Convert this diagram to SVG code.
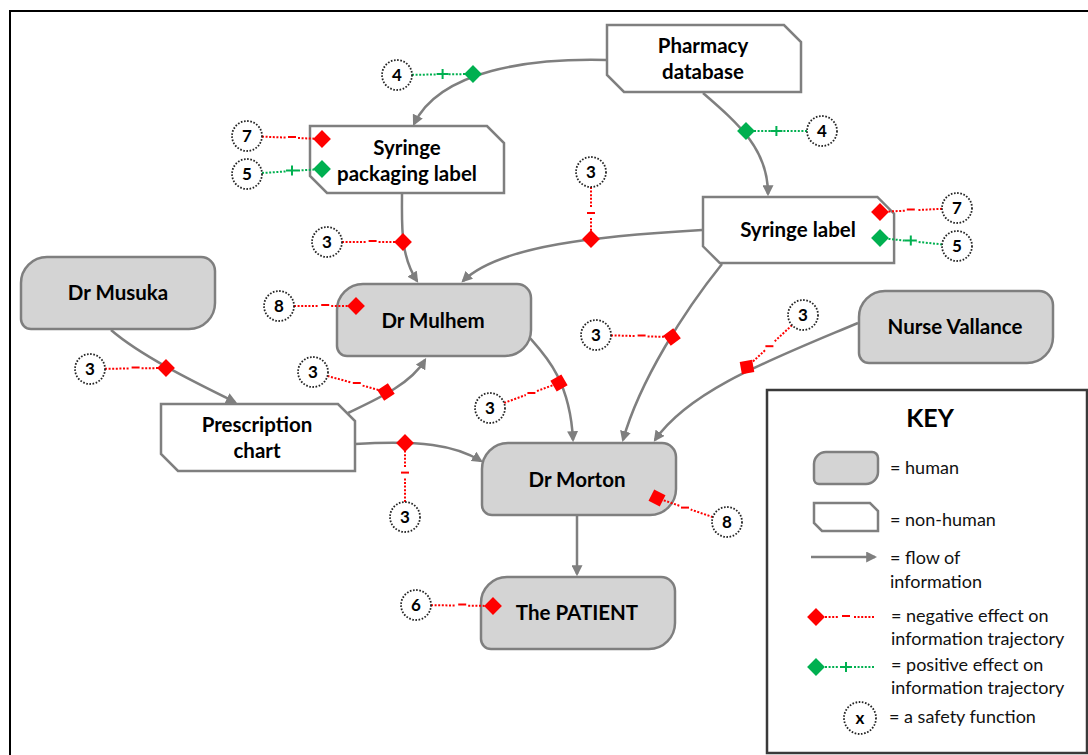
<svg xmlns="http://www.w3.org/2000/svg" xmlns:xlink="http://www.w3.org/1999/xlink" width="1088" height="755" viewBox="0 0 1088 755">
  <style>
    .human { fill: #d4d4d4; stroke: #7f7f7f; stroke-width: 2.5; }
    .thing { fill: #ffffff; stroke: #7f7f7f; stroke-width: 2.5; }
    .label { font-family: Lato, "Liberation Sans", sans-serif; font-weight: bold; font-size: 20.5px; fill: #000; text-anchor: middle; }
    .flow { fill: none; stroke: #7f7f7f; stroke-width: 2.5; marker-end: url(#arrow); }
    .negdot { fill: none; stroke: #ff0000; stroke-width: 2; stroke-dasharray: 2 1.6; }
    .posdot { fill: none; stroke: #00b050; stroke-width: 2; stroke-dasharray: 2 1.6; }
    .neg { fill: #ff0000; stroke: #ff0000; stroke-width: 2; }
    .pos { fill: #00b050; stroke: #00b050; stroke-width: 2; }
    .sf { fill: #ffffff; stroke: #222; stroke-width: 1.8; stroke-dasharray: 1.6 1.6; }
    .num { font-family: Lato, "Liberation Sans", sans-serif; font-weight: bold; font-size: 17px; fill: #000; text-anchor: middle; }
    .key { font-family: Lato, "Liberation Sans", sans-serif; font-size: 18px; fill: #111; }
  </style>
  <defs>
    <marker id="arrow" viewBox="0 0 10 10" refX="8" refY="5" markerWidth="11" markerHeight="11" markerUnits="userSpaceOnUse" orient="auto">
      <path d="M0,0 L10,5 L0,10 Z" fill="#7f7f7f"/>
    </marker>
    <!-- person: big rounded top-left / bottom-right corners -->
    <path id="humanShape" d="M26,0 H180 A14,14 0 0 1 194,14 V46 A26,26 0 0 1 168,72 H10 A10,10 0 0 1 0,62 V26 A26,26 0 0 1 26,0 Z"/>
    <!-- artefact: clipped top-right / bottom-left corners -->
    <path id="thingShape" d="M0,0 H177 L194,17 V67 H17 L0,50 Z"/>
    <path id="dia" d="M0,-7.5 L7.5,0 L0,7.5 L-7.5,0 Z"/>
    <path id="dash" d="M-4,0 H4"/>
    <path id="plus" d="M-6,0 H6 M0,-5 V5"/>
  </defs>

  <rect width="1088" height="755" fill="#ffffff"/>
  <rect x="10" y="11" width="1090" height="760" fill="none" stroke="#000" stroke-width="2"/>

  <!-- information flows -->
  <g id="connectors">
    <path class="flow" d="M607,60 C530,58 440,70 414,124"/>
    <path class="flow" d="M703,93 C740,125 768,150 768,194"/>
    <path class="flow" d="M402,194 C402,225 400,255 417,281"/>
    <path class="flow" d="M702,230 C600,236 500,245 463,281"/>
    <path class="flow" d="M111,330 C140,355 190,380 235,402"/>
    <path class="flow" d="M348,413 C375,400 410,385 425,360"/>
    <path class="flow" d="M355,444 C420,440 455,445 481,461"/>
    <path class="flow" d="M529,337 C545,355 570,380 573,440"/>
    <path class="flow" d="M722,264 C685,310 640,380 623,440"/>
    <path class="flow" d="M858,323 C770,360 690,390 655,440"/>
    <path class="flow" d="M577,515 V574"/>
  </g>

  <!-- nodes -->
  <g id="pharmacy-database">
    <use xlink:href="#thingShape" class="thing" transform="translate(607,25)"/>
    <text class="label" x="703" y="53">Pharmacy</text>
    <text class="label" x="703" y="79">database</text>
  </g>
  <g id="syringe-packaging-label">
    <use xlink:href="#thingShape" class="thing" transform="translate(310,126)"/>
    <text class="label" x="407" y="155">Syringe</text>
    <text class="label" x="407" y="181">packaging label</text>
  </g>
  <g id="syringe-label">
    <use xlink:href="#thingShape" class="thing" transform="translate(703,197) scale(0.985,0.985)"/>
    <text class="label" x="798" y="237">Syringe label</text>
  </g>
  <g id="prescription-chart">
    <use xlink:href="#thingShape" class="thing" transform="translate(161,404)"/>
    <text class="label" x="257" y="432">Prescription</text>
    <text class="label" x="257" y="458">chart</text>
  </g>
  <g id="dr-musuka">
    <use xlink:href="#humanShape" class="human" transform="translate(21,257)"/>
    <text class="label" x="118" y="300">Dr Musuka</text>
  </g>
  <g id="dr-mulhem">
    <use xlink:href="#humanShape" class="human" transform="translate(337,284)"/>
    <text class="label" x="433" y="328">Dr Mulhem</text>
  </g>
  <g id="nurse-vallance">
    <use xlink:href="#humanShape" class="human" transform="translate(859,291)"/>
    <text class="label" x="955" y="334">Nurse Vallance</text>
  </g>
  <g id="dr-morton">
    <use xlink:href="#humanShape" class="human" transform="translate(482,443)"/>
    <text class="label" x="577" y="487">Dr Morton</text>
  </g>
  <g id="the-patient">
    <use xlink:href="#humanShape" class="human" transform="translate(481,577)"/>
    <text class="label" x="577" y="620">The PATIENT</text>
  </g>

  <!-- safety functions: negative effects -->
  <g id="sf-7-packaging">
    <path class="negdot" d="M262,136.6 L286,137.6 M298,138 L322,139"/>
    <use xlink:href="#dash" class="neg" x="292" y="137"/>
    <use xlink:href="#dia" class="neg" x="322" y="139"/>
    <circle class="sf" cx="247" cy="136" r="15"/>
    <text class="num" x="247" y="142">7</text>
  </g>
  <g id="sf-3-packaging-mulhem">
    <path class="negdot" d="M342,242 L366.6,242 M378.6,242 L403,242"/>
    <use xlink:href="#dash" class="neg" x="372.6" y="241"/>
    <use xlink:href="#dia" class="neg" x="403" y="242"/>
    <circle class="sf" cx="327" cy="242" r="15"/>
    <text class="num" x="327" y="248">3</text>
  </g>
  <g id="sf-3-label-mulhem">
    <path class="negdot" d="M591,187 L591,208 M591,218 L591,239"/>
    <use xlink:href="#dash" class="neg" x="591" y="213"/>
    <use xlink:href="#dia" class="neg" x="591" y="239"/>
    <circle class="sf" cx="591" cy="172" r="15"/>
    <text class="num" x="591" y="178">3</text>
  </g>
  <g id="sf-7-label">
    <path class="negdot" d="M942,208.8 L916.8,210.1 M904.8,210.7 L880,212"/>
    <use xlink:href="#dash" class="neg" x="910.8" y="209.5"/>
    <use xlink:href="#dia" class="neg" x="880" y="212"/>
    <circle class="sf" cx="957" cy="208" r="15"/>
    <text class="num" x="957" y="214">7</text>
  </g>
  <g id="sf-8-mulhem">
    <path class="negdot" d="M294,306 L319.2,306 M331.2,306 L356,306"/>
    <use xlink:href="#dash" class="neg" x="325.2" y="305"/>
    <use xlink:href="#dia" class="neg" x="356" y="306"/>
    <circle class="sf" cx="279" cy="306" r="15"/>
    <text class="num" x="279" y="312">8</text>
  </g>
  <g id="sf-3-musuka-chart">
    <path class="negdot" d="M105,368.8 L129.6,368.5 M141.6,368.3 L166,368"/>
    <use xlink:href="#dash" class="neg" x="135.6" y="367.5"/>
    <use xlink:href="#dia" class="neg" x="166" y="368"/>
    <circle class="sf" cx="90" cy="369" r="15"/>
    <text class="num" x="90" y="375">3</text>
  </g>
  <g id="sf-3-chart-mulhem">
    <path class="negdot" d="M327.5,376 L351,382.4 M362.6,385.6 L386,392"/>
    <use xlink:href="#dash" class="neg" x="356.8" y="383"/>
    <use xlink:href="#dia" class="neg" transform="translate(386,392) rotate(12)"/>
    <circle class="sf" cx="313" cy="372" r="15"/>
    <text class="num" x="313" y="378">3</text>
  </g>
  <g id="sf-3-chart-morton">
    <path class="negdot" d="M405,502 L405,478 M405,467 L405,443"/>
    <use xlink:href="#dash" class="neg" x="405" y="472.6"/>
    <use xlink:href="#dia" class="neg" x="405" y="443"/>
    <circle class="sf" cx="405" cy="517" r="15"/>
    <text class="num" x="405" y="523">3</text>
  </g>
  <g id="sf-3-mulhem-morton">
    <path class="negdot" d="M504.1,402.9 L525.8,395 M537,391 L559,383"/>
    <use xlink:href="#dash" class="neg" x="531.4" y="393"/>
    <use xlink:href="#dia" class="neg" transform="translate(559,383) rotate(15)"/>
    <circle class="sf" cx="490" cy="408" r="15"/>
    <text class="num" x="490" y="414">3</text>
  </g>
  <g id="sf-3-label-morton">
    <path class="negdot" d="M611,335.4 L635.6,336 M647.6,336.4 L672,337"/>
    <use xlink:href="#dash" class="neg" x="641.6" y="335.5"/>
    <use xlink:href="#dia" class="neg" transform="translate(672,337) rotate(8)"/>
    <circle class="sf" cx="596" cy="335" r="15"/>
    <text class="num" x="596" y="341">3</text>
  </g>
  <g id="sf-3-vallance-morton">
    <path class="negdot" d="M792,325.2 L773.8,342.1 M765,350.3 L747,367"/>
    <use xlink:href="#dash" class="neg" x="769.4" y="346.2"/>
    <use xlink:href="#dia" class="neg" transform="translate(747,367) rotate(35)"/>
    <circle class="sf" cx="803" cy="315" r="15"/>
    <text class="num" x="803" y="321">3</text>
  </g>
  <g id="sf-8-morton">
    <path class="negdot" d="M712.8,517.1 L690.7,509.5 M679.3,505.7 L657,498"/>
    <use xlink:href="#dash" class="neg" x="685" y="507.6"/>
    <use xlink:href="#dia" class="neg" transform="translate(657,498) rotate(-18)"/>
    <circle class="sf" cx="727" cy="522" r="15"/>
    <text class="num" x="727" y="528">8</text>
  </g>
  <g id="sf-6-patient">
    <path class="negdot" d="M431,605.2 L456.2,605.5 M468.2,605.7 L493,606"/>
    <use xlink:href="#dash" class="neg" x="462.2" y="604.5"/>
    <use xlink:href="#dia" class="neg" x="493" y="606"/>
    <circle class="sf" cx="416" cy="605" r="15"/>
    <text class="num" x="416" y="611">6</text>
  </g>

  <!-- safety functions: positive effects -->
  <g id="sf-4-packaging">
    <path class="posdot" d="M412,74.8 L436.6,74.5 M448.6,74.3 L473,74"/>
    <use xlink:href="#plus" class="pos" x="442.6" y="74"/>
    <use xlink:href="#dia" class="pos" x="473" y="74"/>
    <circle class="sf" cx="397" cy="75" r="15"/>
    <text class="num" x="397" y="81">4</text>
  </g>
  <g id="sf-4-label">
    <path class="posdot" d="M807,131 L782.4,131 M770.4,131 L746,131"/>
    <use xlink:href="#plus" class="pos" x="776.4" y="131"/>
    <use xlink:href="#dia" class="pos" x="746" y="131"/>
    <circle class="sf" cx="822" cy="131" r="15"/>
    <text class="num" x="822" y="137">4</text>
  </g>
  <g id="sf-5-packaging">
    <path class="posdot" d="M262,173 L286,171.4 M298,170.6 L322,169"/>
    <use xlink:href="#plus" class="pos" x="292" y="170.5"/>
    <use xlink:href="#dia" class="pos" x="322" y="169"/>
    <circle class="sf" cx="247" cy="174" r="15"/>
    <text class="num" x="247" y="180">5</text>
  </g>
  <g id="sf-5-label">
    <path class="posdot" d="M942.1,244.4 L916.8,241.8 M904.8,240.6 L880,238"/>
    <use xlink:href="#plus" class="pos" x="910.8" y="240.5"/>
    <use xlink:href="#dia" class="pos" x="880" y="238"/>
    <circle class="sf" cx="957" cy="246" r="15"/>
    <text class="num" x="957" y="252">5</text>
  </g>

  <!-- legend -->
  <g id="key">
    <rect x="767" y="390" width="320" height="363" fill="#ffffff" stroke="#3a3a3a" stroke-width="2.5"/>
    <text x="930" y="427" font-family="Lato, 'Liberation Sans', sans-serif" font-weight="bold" font-size="25" text-anchor="middle" fill="#000">KEY</text>

    <path class="human" d="M826,452 H872 A6,6 0 0 1 878,458 V472 A12,12 0 0 1 866,484 H819 A5,5 0 0 1 814,479 V464 A12,12 0 0 1 826,452 Z"/>
    <text class="key" x="890" y="474">= human</text>

    <path class="thing" d="M814,503 H870 L878,511 V531 H822 L814,523 Z"/>
    <text class="key" x="890" y="526">= non-human</text>

    <path class="flow" d="M811,557 H875"/>
    <text class="key" x="890" y="564">= flow of</text>
    <text class="key" x="890" y="588">information</text>

    <path class="negdot" d="M825,617 L838,617 M854,617 L875,617"/>
    <use xlink:href="#dash" class="neg" x="846" y="616"/>
    <use xlink:href="#dia" class="neg" x="816" y="617"/>
    <text class="key" x="891" y="622">= negative effect on</text>
    <text class="key" x="891" y="645">information trajectory</text>

    <path class="posdot" d="M825,667 L838,667 M854,667 L875,667"/>
    <use xlink:href="#plus" class="pos" x="846" y="667"/>
    <use xlink:href="#dia" class="pos" x="816" y="667"/>
    <text class="key" x="891" y="671">= positive effect on</text>
    <text class="key" x="891" y="694">information trajectory</text>

    <circle class="sf" cx="860" cy="718" r="16"/>
    <text class="num" x="860" y="724">x</text>
    <text class="key" x="889" y="723">= a safety function</text>
  </g>
</svg>
